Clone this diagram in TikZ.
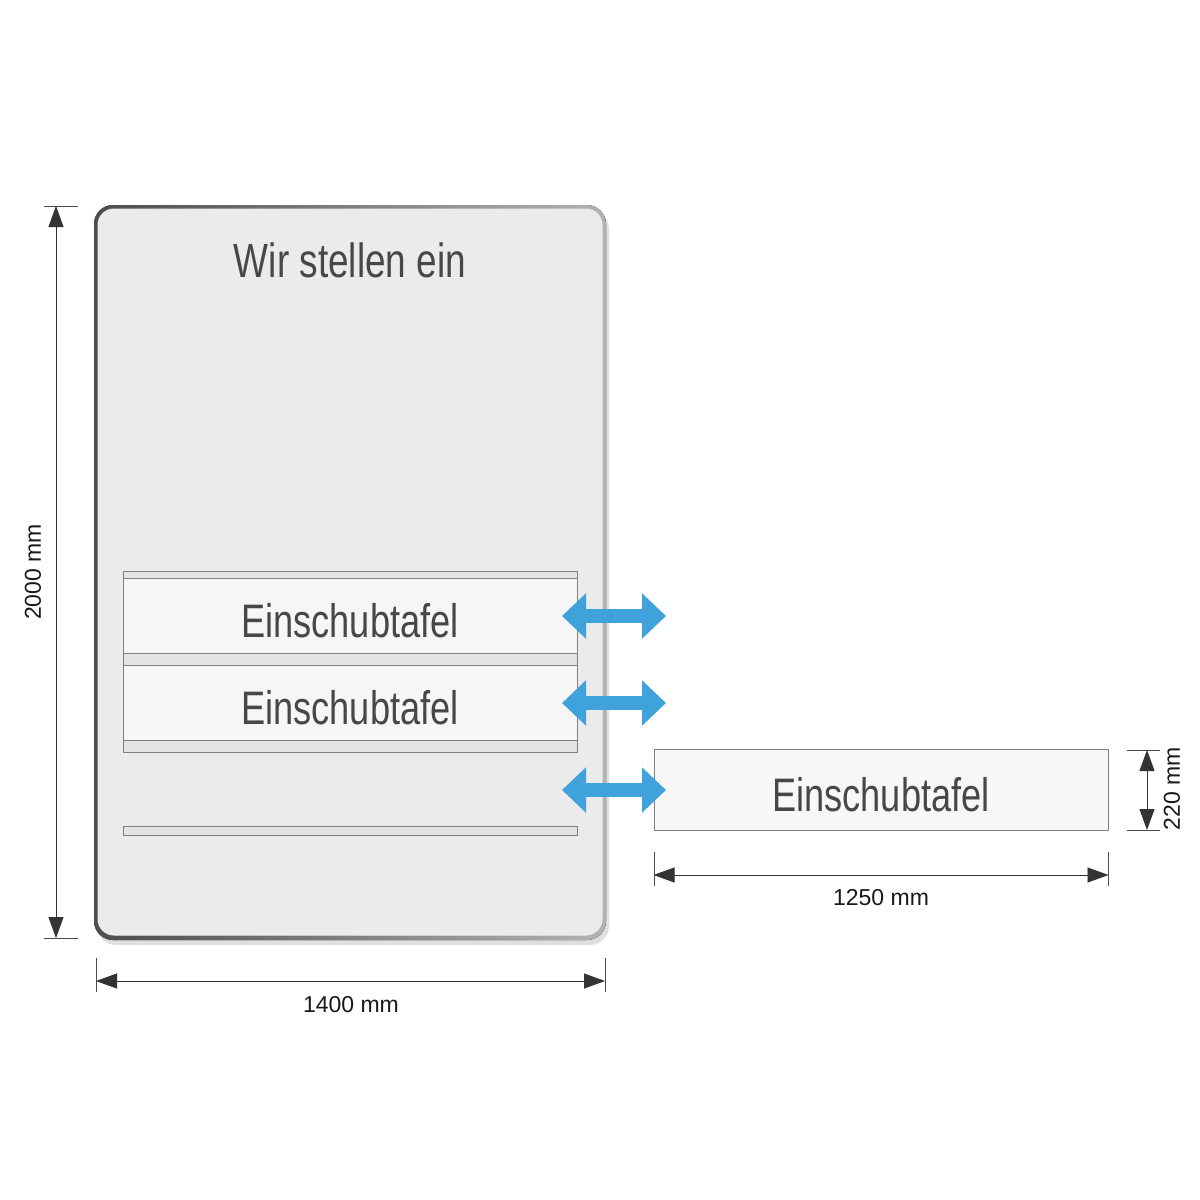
\documentclass[tikz,border=0pt]{standalone}
\usepackage{fontspec}
\setmainfont{Liberation Sans}
\newfontfamily\condfont[FakeStretch=0.77]{Liberation Sans}
\usepackage{tikz}
\usetikzlibrary{arrows.meta,shadows}
\definecolor{slideblue}{HTML}{3FA2DA}
\definecolor{boardgray}{HTML}{EBEBEB}
\definecolor{inkgray}{HTML}{474747}

\begin{document}
\begin{tikzpicture}
	[x=1pt, y=-1pt,
	panel/.style={draw=black!50, fill=gray!7, line width=1pt,
		rectangle, inner sep=0pt, minimum width=454pt, minimum height=75pt,
		text height=44pt, text depth=0pt,
		font=\condfont\fontsize{47}{50}\selectfont, text=inkgray},
	strip/.style={draw=black!50, fill=gray!22, line width=1pt},
	dimline/.style={draw=black!80, line width=0.8pt,
		{Triangle[length=21pt,width=15pt]}-{Triangle[length=21pt,width=15pt]}},
	tick/.style={draw=black!70, line width=0.6pt},
	dimlabel/.style={font=\fontsize{23}{26}\selectfont, text=black!90, inner sep=0pt},
	slide/.style={draw=slideblue, line width=14pt,
		{Triangle[length=24pt,width=44pt]}-{Triangle[length=24pt,width=44pt]}}]
	\useasboundingbox [fill=white] (0,0) rectangle (1200,1200);

	% board
	\fill [rounded corners=19pt, left color=black!70, right color=black!30,
		drop shadow={shadow xshift=3pt, shadow yshift=-5pt, opacity=0.25}]
		(94,205) rectangle (606,940);
	\filldraw [rounded corners=16pt, fill=boardgray, draw=white!85!gray, line width=1pt]
		(98,209) rectangle (602,935);
	\node [font=\condfont\fontsize{48}{50}\selectfont, text=inkgray] (heading) at (350,260)
		{Wir stellen ein};

	% rails with panels
	\draw [strip] (123,571) rectangle (577,578);
	\node [panel] (tafelA) at (350,615.5) {Einschubtafel};
	\draw [strip] (123,653) rectangle (577,665);
	\node [panel] (tafelB) at (350,702.5) {Einschubtafel};
	\draw [strip] (123,740) rectangle (577,752);
	\draw [strip] (123,826) rectangle (577,835);

	% loose panel
	\node [panel, minimum width=454pt, minimum height=81pt, fill=gray!6] (tafelC) at (881,789.5)
		{Einschubtafel};

	% sliding arrows
	\foreach \n/\y in {A/616, B/703, C/790}{
		\coordinate (in\n) at (562,\y);
		\coordinate (out\n) at (666,\y);
		\draw [slide] (in\n) -- (out\n);
	}

	% dimension 2000
	\coordinate (hTop) at (56,206);
	\coordinate (hBot) at (56,938);
	\draw [tick] (44,206) -- (78,206);
	\draw [tick] (44,938) -- (78,938);
	\draw [dimline] (hTop) -- (hBot);
	\node [dimlabel, rotate=90] (hLabel) at (33,572) {2000 mm};

	% dimension 1400
	\coordinate (wLeft) at (96,981);
	\coordinate (wRight) at (605,981);
	\draw [tick] (96,958) -- (96,992);
	\draw [tick] (605,958) -- (605,992);
	\draw [dimline] (wLeft) -- (wRight);
	\node [dimlabel] (wLabel) at (351,1005) {1400 mm};

	% dimension 1250
	\coordinate (tLeft) at (tafelC.south west |- 0,875);
	\coordinate (tRight) at (tafelC.south east |- 0,875);
	\draw [tick] (654,852) -- (654,886);
	\draw [tick] (1108,852) -- (1108,886);
	\draw [dimline] (tLeft) -- (tRight);
	\node [dimlabel] (tLabel) at (881,898) {1250 mm};

	% dimension 220
	\coordinate (sTop) at (1147,750);
	\coordinate (sBot) at (1147,830);
	\draw [tick] (1127,750) -- (1160,750);
	\draw [tick] (1127,830) -- (1160,830);
	\draw [dimline] (sTop) -- (sBot);
	\node [dimlabel, rotate=90] (sLabel) at (1172,789) {220 mm};
\end{tikzpicture}
\end{document}
